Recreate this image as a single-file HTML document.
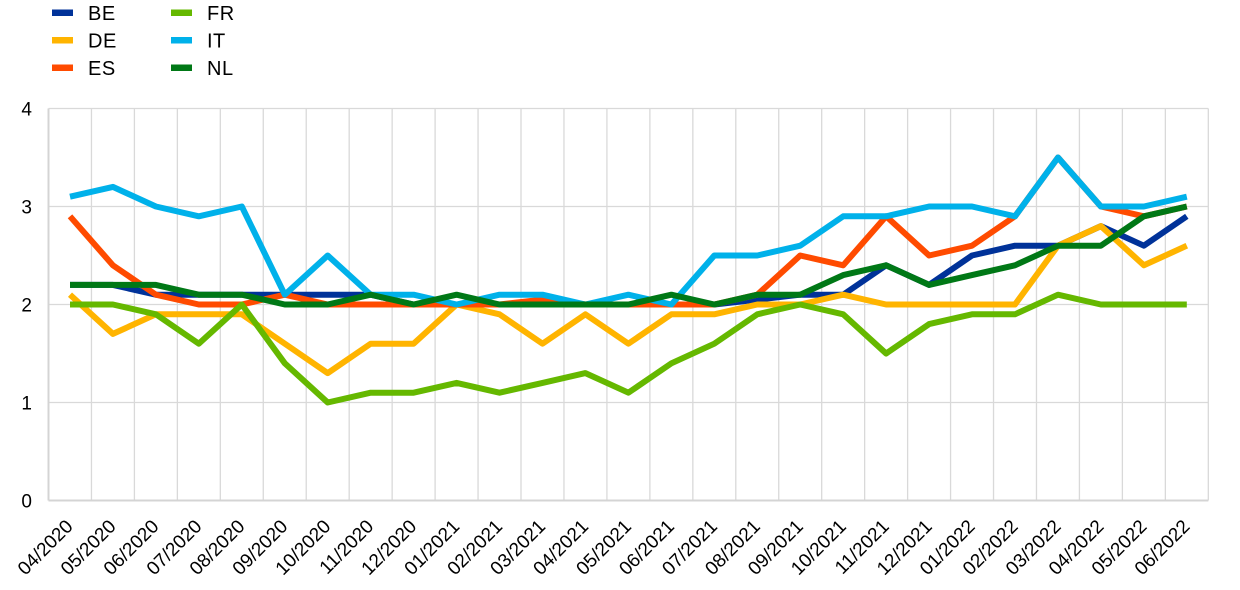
<!DOCTYPE html>
<html><head><meta charset="utf-8"><style>
html,body{margin:0;padding:0;background:#fff;}
svg{display:block;font-family:"Liberation Sans",Arial,sans-serif;}
</style></head><body>
<svg width="1240" height="590" viewBox="0 0 1240 590" xmlns="http://www.w3.org/2000/svg">
<g id="legend" font-size="20" fill="#000" letter-spacing="0.5">
<rect x="52" y="9.5" width="21" height="6.5" fill="#003299"/><text x="88" y="20">BE</text>
<rect x="52" y="37" width="21" height="6.5" fill="#FFB400"/><text x="88" y="47.5">DE</text>
<rect x="52" y="64.5" width="21" height="6.5" fill="#FF4B00"/><text x="88" y="75">ES</text>
<rect x="171" y="9.5" width="21" height="6.5" fill="#65B800"/><text x="207" y="20">FR</text>
<rect x="171" y="37" width="21" height="6.5" fill="#00B1EA"/><text x="207" y="47.5">IT</text>
<rect x="171" y="64.5" width="21" height="6.5" fill="#007816"/><text x="207" y="75">NL</text>
</g>
<g id="grid" stroke="#d9d9d9" stroke-width="1.3" fill="none"></g>
<g id="ylab" font-size="19" text-anchor="end" fill="#000"></g>
<g id="xlab" font-size="19" text-anchor="end" fill="#000"></g>
<g id="series" fill="none" stroke-width="6" stroke-linejoin="round" stroke-linecap="butt"></g>
</svg>
<script>
(function(){
var NS="http://www.w3.org/2000/svg";
var L=48.5,R=1208.3,T=108.5,B=500.5,N=27,cw=(R-L)/N;
function y(v){return B-(B-T)*v/4;}
function xc(i){return L+cw*(i+0.5);}
var g=document.getElementById('grid');
function line(x1,y1,x2,y2,c,w){var l=document.createElementNS(NS,'line');l.setAttribute('x1',x1);l.setAttribute('y1',y1);l.setAttribute('x2',x2);l.setAttribute('y2',y2);if(c)l.setAttribute('stroke',c);if(w)l.setAttribute('stroke-width',w);g.appendChild(l);}
for(var v=1;v<=4;v++)line(L,y(v),R,y(v));
for(var i=1;i<=N;i++)line(L+cw*i,T,L+cw*i,B);
line(L,T,L,B,'#d4d4d4',2);line(L,B,R,B,'#d4d4d4',2);
var yl=document.getElementById('ylab');
for(var v=0;v<=4;v++){var t=document.createElementNS(NS,'text');t.setAttribute('x',32);t.setAttribute('y',y(v)+6.8);t.textContent=v;yl.appendChild(t);}
var labs=["04/2020","05/2020","06/2020","07/2020","08/2020","09/2020","10/2020","11/2020","12/2020","01/2021","02/2021","03/2021","04/2021","05/2021","06/2021","07/2021","08/2021","09/2021","10/2021","11/2021","12/2021","01/2022","02/2022","03/2022","04/2022","05/2022","06/2022"];
var xl=document.getElementById('xlab');
labs.forEach(function(s,i){var t=document.createElementNS(NS,'text');var ax=xc(i)+4,ay=527.5;t.setAttribute('x',ax);t.setAttribute('y',ay);t.setAttribute('transform','rotate(-45 '+ax+' '+ay+')');t.textContent=s;xl.appendChild(t);});
var data=[
["#003299",[2.2,2.2,2.1,2.1,2.1,2.1,2.1,2.1,2.0,2.0,2.0,2.0,2.0,2.0,2.0,2.0,2.05,2.1,2.1,2.4,2.2,2.5,2.6,2.6,2.8,2.6,2.9]],
["#FFB400",[2.1,1.7,1.9,1.9,1.9,1.6,1.3,1.6,1.6,2.0,1.9,1.6,1.9,1.6,1.9,1.9,2.0,2.0,2.1,2.0,2.0,2.0,2.0,2.6,2.8,2.4,2.6]],
["#FF4B00",[2.9,2.4,2.1,2.0,2.0,2.1,2.0,2.0,2.0,2.0,2.0,2.05,2.0,2.0,2.0,2.0,2.1,2.5,2.4,2.9,2.5,2.6,2.9,3.5,3.0,2.9,3.0]],
["#65B800",[2.0,2.0,1.9,1.6,2.0,1.4,1.0,1.1,1.1,1.2,1.1,1.2,1.3,1.1,1.4,1.6,1.9,2.0,1.9,1.5,1.8,1.9,1.9,2.1,2.0,2.0,2.0]],
["#00B1EA",[3.1,3.2,3.0,2.9,3.0,2.1,2.5,2.1,2.1,2.0,2.1,2.1,2.0,2.1,2.0,2.5,2.5,2.6,2.9,2.9,3.0,3.0,2.9,3.5,3.0,3.0,3.1]],
["#007816",[2.2,2.2,2.2,2.1,2.1,2.0,2.0,2.1,2.0,2.1,2.0,2.0,2.0,2.0,2.1,2.0,2.1,2.1,2.3,2.4,2.2,2.3,2.4,2.6,2.6,2.9,3.0]]
];
var sg=document.getElementById('series');
data.forEach(function(d){var p=document.createElementNS(NS,'polyline');p.setAttribute('stroke',d[0]);p.setAttribute('points',d[1].map(function(v,i){return xc(i).toFixed(1)+','+y(v).toFixed(1);}).join(' '));sg.appendChild(p);});
})();
</script>
</body></html>
